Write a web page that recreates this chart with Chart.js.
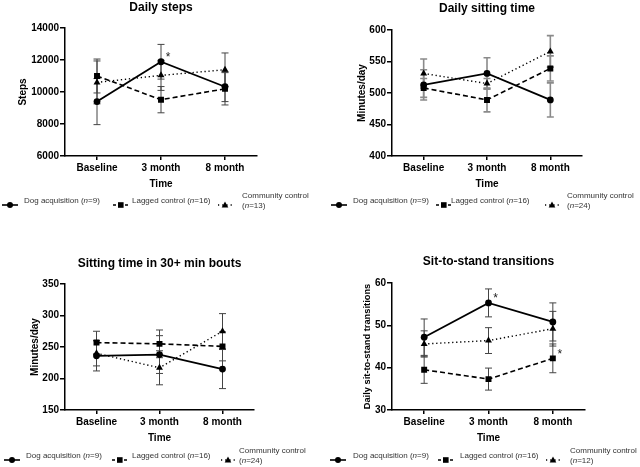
<!DOCTYPE html>
<html>
<head>
<meta charset="utf-8">
<script src="https://cdn.jsdelivr.net/npm/chart.js@4.4.0/dist/chart.umd.min.js"></script>
<style>
  body { margin: 0; background: #fff; width: 640px; height: 467px; position: relative; overflow: hidden;
         font-family: "Liberation Sans", Arial, sans-serif; }
  canvas { position: absolute; }
  #legends { position: absolute; left: 0; top: 0; width: 640px; height: 467px; will-change: transform; }
  .lg { position: absolute; font-size: 8px; color: #333; white-space: nowrap; line-height: 10px; -webkit-font-smoothing: antialiased; }
  .sym { position: absolute; }
</style>
</head>
<body>
<canvas id="steps" width="320" height="190" style="left:0;top:0"></canvas>
<canvas id="sitting" width="320" height="190" style="left:320px;top:0"></canvas>
<canvas id="bouts" width="320" height="194" style="left:0;top:250px"></canvas>
<canvas id="sitstand" width="320" height="194" style="left:320px;top:250px"></canvas>
<div id="legends"></div>
<script>
'use strict';

// ── Data ──────────────────────────────────────────────────────────────────────
const timepoints = ['Baseline', '3 month', '8 month'];
const groupNames = ['Dog acquisition', 'Lagged control', 'Community control'];

// Daily steps
const dogSteps       = [9400, 11890, 10330];
const dogStepsErr    = [1440, 1085, 930];
const laggedSteps    = [11000, 9520, 10200];
const laggedStepsErr = [1060, 820, 1010];
const commSteps      = [10600, 11040, 11390];
const commStepsErr   = [1340, 940, 1050];
const stepsN         = [9, 16, 13];

// Daily sitting time (min/day)
const dogSitting       = [513, 531, 489];
const dogSittingErr    = [24, 25, 27];
const laggedSitting    = [508, 489, 539];
const laggedSittingErr = [15, 19, 20];
const commSitting      = [531, 515, 566];
const commSittingErr   = [23, 8, 25];
const sittingN         = [9, 16, 24];

// Sitting time in 30+ min bouts (min/day)
const dogBouts       = [236, 238, 215];
const dogBoutsErr    = [24, 30, 31];
const laggedBouts    = [257, 255, 251];
const laggedBoutsErr = [18, 22, 23];
const commBouts      = [240, 217, 275];
const commBoutsErr   = [20, 27, 28];
const boutsN         = [9, 16, 24];

// Sit-to-stand transitions
const dogSitStand       = [47.2, 55.3, 50.8];
const dogSitStandErr    = [4.3, 3.3, 4.5];
const laggedSitStand    = [39.5, 37.3, 42.2];
const laggedSitStandErr = [3.2, 2.6, 3.4];
const commSitStand      = [45.6, 46.4, 49.2];
const commSitStandErr   = [3.1, 3.05, 4.1];
const sitStandN         = [9, 16, 12];

// significance marks (one per timepoint)
const dogStepsStars     = ['', '*', ''];
const dogSitStandStars  = ['', '*', ''];
const laggedSitStandStars = ['', '', '*'];

Chart.defaults.font.family = '"Liberation Sans", Arial, sans-serif';
Chart.defaults.color = '#000';

// ── Plugins: error bars + asterisks ──────────────────────────────────────────
const errorBars = {
  id: 'errorBars',
  beforeDatasetsDraw(chart, args, opts) {
    const { ctx } = chart;
    const y = chart.scales.y;
    ctx.save();
    ctx.strokeStyle = opts.color || '#444';
    ctx.lineWidth = opts.width || 1;
    chart.data.datasets.forEach((ds, di) => {
      if (!ds.errors) return;
      const meta = chart.getDatasetMeta(di);
      ds.data.forEach((v, i) => {
        const px = meta.data[i].x;
        const top = y.getPixelForValue(v + ds.errors[i]);
        const bot = y.getPixelForValue(v - ds.errors[i]);
        ctx.beginPath();
        ctx.moveTo(px, top); ctx.lineTo(px, bot);
        ctx.moveTo(px - 3.5, top); ctx.lineTo(px + 3.5, top);
        ctx.moveTo(px - 3.5, bot); ctx.lineTo(px + 3.5, bot);
        ctx.stroke();
      });
    });
    ctx.restore();
  },
};

const stars = {
  id: 'stars',
  afterDatasetsDraw(chart) {
    const { ctx } = chart;
    ctx.save();
    ctx.fillStyle = '#222';
    ctx.font = '12px "Liberation Sans", Arial, sans-serif';
    ctx.textAlign = 'center';
    ctx.textBaseline = 'middle';
    chart.data.datasets.forEach((ds, di) => {
      if (!ds.stars) return;
      const meta = chart.getDatasetMeta(di);
      ds.stars.forEach((s, i) => {
        if (!s) return;
        const p = meta.data[i];
        ctx.fillText(s, p.x + 7, p.y - 4);
      });
    });
    ctx.restore();
  },
};

// ── Panel builder ────────────────────────────────────────────────────────────
function series(label, data, errors, style, starsArr) {
  const base = {
    label, data, errors, stars: starsArr,
    borderColor: '#000', backgroundColor: '#000',
    pointBackgroundColor: '#000', pointBorderColor: '#000', pointBorderWidth: 0,
    tension: 0, fill: false,
  };
  if (style === 'dog') return { ...base, borderWidth: 1.8, pointStyle: 'circle', pointRadius: 3.4 };
  if (style === 'lagged') return { ...base, borderWidth: 1.6, borderDash: [5, 3], pointStyle: 'rect', pointRadius: 4.2 };
  return { ...base, borderWidth: 1.4, borderDash: [1.3, 2.7], pointStyle: 'triangle', pointRadius: 4 };
}

function renderPanel(id, o) {
  const canvas = document.getElementById(id);
  const W = canvas.width, H = canvas.height;
  const yTitleLH = o.yTitleSize * 1.2;
  const padLeft = o.yTitleX - yTitleLH / 2;
  new Chart(canvas, {
    type: 'line',
    data: { labels: timepoints, datasets: o.datasets },
    options: {
      responsive: false,
      animation: false,
      layout: { padding: { left: padLeft, right: W - o.right, top: 0, bottom: 0 } },
      plugins: {
        legend: { display: false },
        tooltip: { enabled: false },
        title: {
          display: true, text: o.title, fullSize: false, color: '#000',
          font: { size: 12, weight: 'bold' },
          padding: { top: o.titleY - 7.2, bottom: o.top - o.titleY - 7.2 },
        },
        errorBars: { color: o.errColor, width: o.errWidth },
      },
      scales: {
        x: {
          offset: true,
          afterFit: s => { s.height = H - o.bottom; },
          grid: { display: true, drawOnChartArea: false, drawTicks: true, tickLength: 4, offset: false, color: '#000', lineWidth: 1.5 },
          border: { display: true, color: '#000', width: 1.5 },
          ticks: { color: '#000', padding: 2, font: { size: 10, weight: 'bold' }, maxRotation: 0 },
          title: { display: true, text: 'Time', color: '#000', font: { size: 10, weight: 'bold' }, padding: { top: 2, bottom: 0 } },
        },
        y: {
          min: o.yMin, max: o.yMax,
          afterFit: s => { s.width = o.left - padLeft; },
          grid: { display: true, drawOnChartArea: false, drawTicks: true, tickLength: 5, color: '#000', lineWidth: 1.5 },
          border: { display: true, color: '#000', width: 1.5 },
          ticks: { stepSize: o.yStep, color: '#000', padding: 1, font: { size: 10, weight: 'bold' }, callback: v => String(v) },
          title: { display: true, text: o.yTitle, color: '#000', font: { size: o.yTitleSize, weight: 'bold' }, padding: { top: 0, bottom: 0 } },
        },
      },
    },
    plugins: [errorBars, stars],
  });
}

renderPanel('steps', {
  title: 'Daily steps', yTitle: 'Steps', yMin: 6000, yMax: 14000, yStep: 2000,
  left: 65, right: 257, top: 28, bottom: 156, titleY: 8, yTitleX: 23, yTitleSize: 10,
  errColor: '#444', errWidth: 1,
  datasets: [
    series(groupNames[0], dogSteps, dogStepsErr, 'dog', dogStepsStars),
    series(groupNames[1], laggedSteps, laggedStepsErr, 'lagged'),
    series(groupNames[2], commSteps, commStepsErr, 'comm'),
  ],
});

renderPanel('sitting', {
  title: 'Daily sitting time', yTitle: 'Minutes/day', yMin: 400, yMax: 600, yStep: 50,
  left: 72, right: 262, top: 30, bottom: 156, titleY: 9, yTitleX: 42, yTitleSize: 10,
  errColor: '#8a8a8a', errWidth: 1.6,
  datasets: [
    series(groupNames[0], dogSitting, dogSittingErr, 'dog'),
    series(groupNames[1], laggedSitting, laggedSittingErr, 'lagged'),
    series(groupNames[2], commSitting, commSittingErr, 'comm'),
  ],
});

renderPanel('bouts', {
  title: 'Sitting time in 30+ min bouts', yTitle: 'Minutes/day', yMin: 150, yMax: 350, yStep: 50,
  left: 65, right: 254, top: 34, bottom: 160, titleY: 14, yTitleX: 35, yTitleSize: 10,
  errColor: '#444', errWidth: 1,
  datasets: [
    series(groupNames[0], dogBouts, dogBoutsErr, 'dog'),
    series(groupNames[1], laggedBouts, laggedBoutsErr, 'lagged'),
    series(groupNames[2], commBouts, commBoutsErr, 'comm'),
  ],
});

renderPanel('sitstand', {
  title: 'Sit-to-stand transitions', yTitle: 'Daily sit-to-stand transitions', yMin: 30, yMax: 60, yStep: 10,
  left: 72, right: 265, top: 33, bottom: 160, titleY: 12, yTitleX: 47, yTitleSize: 9.3,
  errColor: '#444', errWidth: 1,
  datasets: [
    series(groupNames[0], dogSitStand, dogSitStandErr, 'dog', dogSitStandStars),
    series(groupNames[1], laggedSitStand, laggedSitStandErr, 'lagged', laggedSitStandStars),
    series(groupNames[2], commSitStand, commSitStandErr, 'comm'),
  ],
});

// ── HTML legends ─────────────────────────────────────────────────────────────
const symbolSvg = {
  dog: '<svg width="16" height="10"><line x1="0" y1="5" x2="16" y2="5" stroke="#000" stroke-width="1.6"/><circle cx="8" cy="5" r="3" fill="#000"/></svg>',
  lagged: '<svg width="16" height="10"><line x1="0" y1="5" x2="16" y2="5" stroke="#000" stroke-width="1.5" stroke-dasharray="3,3"/><rect x="5" y="2.2" width="5.6" height="5.6" fill="#000"/></svg>',
  comm: '<svg width="14" height="10"><line x1="0" y1="5" x2="14" y2="5" stroke="#000" stroke-width="1.3" stroke-dasharray="1.2,3"/><polygon points="7,1.5 10.3,7.4 3.7,7.4" fill="#000"/></svg>',
};

function addLegend(rowY, pos, nArr) {
  const host = document.getElementById('legends');
  const keys = ['dog', 'lagged', 'comm'];
  keys.forEach((k, i) => {
    const sym = document.createElement('div');
    sym.className = 'sym';
    sym.style.left = pos[i][0] + 'px';
    sym.style.top = (rowY - 5) + 'px';
    sym.innerHTML = symbolSvg[k];
    host.appendChild(sym);
    const t = document.createElement('div');
    t.className = 'lg';
    t.style.left = pos[i][1] + 'px';
    if (k === 'comm') {
      t.style.top = (rowY - 10) + 'px';
      t.innerHTML = `${groupNames[i]}<br>(<i>n</i>=${nArr[i]})`;
    } else {
      t.style.top = (rowY - 5) + 'px';
      t.innerHTML = `${groupNames[i]} (<i>n</i>=${nArr[i]})`;
    }
    host.appendChild(t);
  });
}

addLegend(201, [[2, 24], [113, 132], [218, 242]], stepsN);
addLegend(201, [[331, 353], [436, 451], [545, 567]], sittingN);
addLegend(456, [[4, 26], [112, 132], [221, 239]], boutsN);
addLegend(456, [[330, 353], [438, 460], [546, 570]], sitStandN);
</script>
</body>
</html>
